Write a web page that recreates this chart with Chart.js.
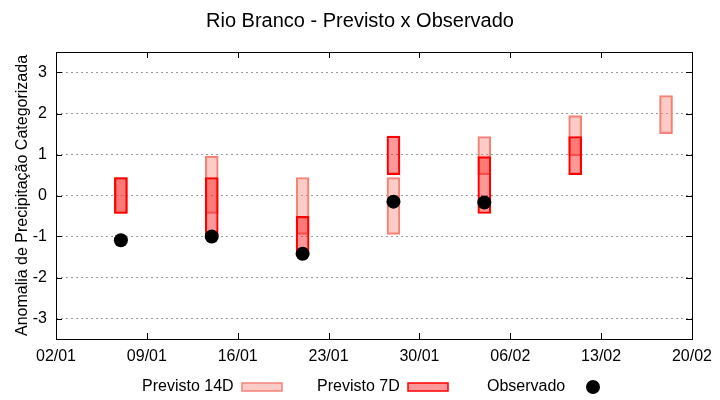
<!DOCTYPE html>
<html><head><meta charset="utf-8">
<script src="https://cdn.jsdelivr.net/npm/chart.js@4.4.0/dist/chart.umd.min.js"></script>
<style>html,body{margin:0;padding:0;background:#fff}#wrap{width:720px;height:400px}</style>
</head><body><div id="wrap"><canvas id="c" width="720" height="400"></canvas></div>
<script>
// ---- data ----
const chartTitle = 'Rio Branco - Previsto x Observado';
const yAxisTitle = 'Anomalia de Precipitação Categorizada';
const startDate = '02/01';
const xTickLabels = ['02/01','09/01','16/01','23/01','30/01','06/02','13/02','20/02'];
const yTickValues = [-3,-2,-1,0,1,2,3];
const forecastDates = ['07/01','14/01','21/01','28/01','04/02','11/02','18/02'];
const prev14Low  = [-0.44, -0.44, -0.95, -0.95, 0.51, 0.97, 1.51];
const prev14High = [ 0.44,  0.96,  0.44,  0.44, 1.44, 1.95, 2.44];
const prev7Low   = [-0.44, -0.95, -1.45,  0.51, -0.44, 0.51, null];
const prev7High  = [ 0.44,  0.44, -0.51,  1.45,  0.95, 1.44, null];
const observed   = [-1.09, -1.00, -1.42, -0.15, -0.17, null, null];
const seriesNames = ['Previsto 14D','Previsto 7D','Observado'];

// ---- helpers ----
const cumDays = {1:0,2:31,3:59,4:90};
function dayNum(s){ const p=s.split('/').map(Number); return cumDays[p[1]]+p[0]; }
function dayOffset(s){ return dayNum(s)-dayNum(startDate); }
const FONT = "'Liberation Sans', Arial, sans-serif";

const c14 = {fill:'rgba(250,128,114,0.4)', stroke:'rgb(245,130,120)'};
const c7  = {fill:'rgba(255,0,0,0.4)', stroke:'rgb(255,0,0)'};

const d14 = forecastDates.map((d,i)=>({x:dayOffset(d), y:[prev14Low[i],prev14High[i]]}));
const d7  = forecastDates.map((d,i)=>prev7Low[i]==null?null:({x:dayOffset(d), y:[prev7Low[i],prev7High[i]]})).filter(v=>v);
const dObs= forecastDates.map((d,i)=>observed[i]==null?null:({x:dayOffset(d), y:observed[i]})).filter(v=>v);

const framePlugin = {
  id:'frame',
  afterDatasetsDraw(chart){
    const {ctx, chartArea:a, scales:{x,y}} = chart;
    ctx.save();
    ctx.strokeStyle='#000'; ctx.lineWidth=1;
    ctx.strokeRect(Math.round(a.left)+0.5, Math.round(a.top)+0.5, Math.round(a.right-a.left), Math.round(a.bottom-a.top));
    const L=6;
    ctx.beginPath();
    yTickValues.forEach(v=>{
      const py=Math.round(y.getPixelForValue(v))+0.5;
      ctx.moveTo(a.left,py); ctx.lineTo(a.left+L,py);
      ctx.moveTo(a.right-L,py); ctx.lineTo(a.right,py);
    });
    xTickLabels.forEach((l,i)=>{
      const px=Math.round(x.getPixelForValue(i*7))+0.5;
      ctx.moveTo(px,a.bottom); ctx.lineTo(px,a.bottom-L);
      ctx.moveTo(px,a.top); ctx.lineTo(px,a.top+L);
    });
    ctx.stroke();
    ctx.restore();
  }
};

const legendPlugin = {
  id:'customLegend',
  afterDraw(chart){
    const ctx=chart.ctx;
    ctx.save();
    ctx.font='16px '+FONT; ctx.fillStyle='#000'; ctx.textBaseline='middle'; ctx.textAlign='left';
    const yc=387;
    ctx.fillText(seriesNames[0],142,yc);
    ctx.fillStyle=c14.fill; ctx.fillRect(242,383,40,8);
    ctx.strokeStyle=c14.stroke; ctx.lineWidth=1.5; ctx.strokeRect(242,383,40,8);
    ctx.fillStyle='#000';
    ctx.fillText(seriesNames[1],317,yc);
    ctx.fillStyle=c7.fill; ctx.fillRect(408,383,40,8);
    ctx.strokeStyle=c7.stroke; ctx.lineWidth=1.5; ctx.strokeRect(408,383,40,8);
    ctx.fillStyle='#000';
    ctx.fillText(seriesNames[2],487,yc);
    ctx.beginPath(); ctx.arc(593,yc,7,0,Math.PI*2); ctx.fill();
    ctx.restore();
  }
};

new Chart(document.getElementById('c'), {
  type:'bar',
  data:{
    datasets:[
      {label:seriesNames[0], data:d14, backgroundColor:c14.fill, borderColor:c14.stroke, borderWidth:1.5, borderSkipped:false, barThickness:13, grouped:false, order:3},
      {label:seriesNames[1], data:d7, backgroundColor:c7.fill, borderColor:c7.stroke, borderWidth:1.5, borderSkipped:false, barThickness:13, grouped:false, order:2},
      {type:'scatter', label:seriesNames[2], data:dObs, backgroundColor:'#000', borderWidth:0, pointRadius:7, pointHoverRadius:7, order:1}
    ]
  },
  options:{
    responsive:false, animation:false, devicePixelRatio:1,
    layout:{padding:0},
    plugins:{
      legend:{display:false}, tooltip:{enabled:false},
      title:{display:true, text:chartTitle, color:'#000', font:{family:FONT,size:20,weight:'normal'}, padding:{top:9,bottom:19}}
    },
    scales:{
      x:{type:'linear', min:0, max:49, offset:false,
        afterBuildTicks:s=>{ s.ticks = xTickLabels.map((l,i)=>({value:i*7})); },
        afterFit:s=>{ s.height=61; },
        ticks:{color:'#000', font:{family:FONT,size:16}, padding:8, maxRotation:0, autoSkip:false,
          callback:(v)=>xTickLabels[Math.round(v/7)]},
        grid:{display:false, offset:false, drawTicks:false},
        border:{display:false}
      },
      y:{type:'linear', min:-3.5, max:3.5,
        afterBuildTicks:s=>{ s.ticks = yTickValues.map(v=>({value:v})); },
        afterFit:s=>{ s.width=56; },
        ticks:{color:'#000', font:{family:FONT,size:16}, padding:9},
        grid:{color:'#999', lineWidth:1, drawTicks:false},
        border:{display:false, dash:[2,3]},
        title:{display:true, text:yAxisTitle, color:'#000', font:{family:FONT,size:16}, padding:{top:13,bottom:0}}
      },
      yRight:{type:'linear', position:'right', min:-3.5, max:3.5,
        afterFit:s=>{ s.width=28; },
        ticks:{display:false}, grid:{display:false, drawTicks:false}, border:{display:false}
      }
    }
  },
  plugins:[framePlugin, legendPlugin]
});
</script>
</body></html>
